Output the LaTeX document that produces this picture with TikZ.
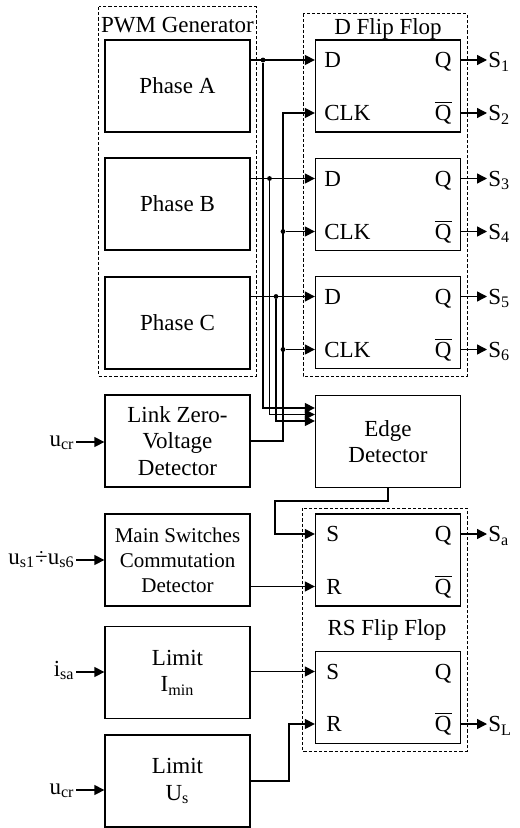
\documentclass[tikz,border=0pt]{standalone}
\usepackage{fontspec}
\setmainfont{Liberation Serif}
\usetikzlibrary{arrows.meta}
\newcommand{\qbar}{$\overline{\mbox{Q}}$}
\tikzset{
  blk/.style = {draw=black, fill=white, minimum width=72.5pt, minimum height=46pt,
    inner sep=0pt, align=center, line width=0.65pt,
    font=\fontsize{11.5}{13.3}\selectfont},
  txt/.style = {inner sep=0.5pt, text height=9pt, text depth=1.2pt,
    font=\fontsize{11.5}{13.3}\selectfont},
  inp/.style = {inner sep=0.5pt, text height=4.5pt, text depth=0.5pt, anchor=east,
    font=\fontsize{11.5}{13.3}\selectfont},
  grp/.style = {draw=black, line width=0.5pt, dash pattern=on 1.6pt off 1pt},
  pt/.style = {circle, fill=black, inner sep=0pt, minimum size=2.4pt},
  fio/.style = {line width=0.65pt},
  seta/.style = {-{Triangle[length=5pt, width=5pt]}, line width=0.65pt}
}

\begin{document}
\begin{tikzpicture}[x=0.5pt, y=-0.5pt]
  \useasboundingbox (0,0) rectangle (519,828);
  \draw [grp] (98.5,7) rectangle (256,376);
  \draw [grp] (303,14) rectangle (467,376);
  \draw [grp] (302,508) rectangle (467,751);
  \node [txt] (tp) at (177.5,24.5) {PWM Generator};
  \node [txt] (td) at (388,27) {D Flip Flop};
  \node [txt] (tr) at (387,627.5) {RS Flip Flop};

  \node [blk] (pa) at (177.5,86) {Phase A};
  \node [blk] (pb) at (177.5,204) {Phase B};
  \node [blk] (pc) at (177.5,323) {Phase C};
  \node [blk] (lz) at (177.5,441) {Link Zero-\\Voltage\\Detector};
  \node [blk, font=\fontsize{10.5}{12.5}\selectfont] (ms) at (177.5,560)
    {Main Switches\\Commutation\\Detector};
  \node [blk] (li) at (177.5,672.5) {Limit\\I\textsubscript{min}};
  \node [blk] (lu) at (177.5,781) {Limit\\U\textsubscript{s}};
  \node [blk] (ed) at (388,441.5) {Edge\\Detector};

  \foreach \i/\y in {1/86, 2/204.5, 3/322.5} {
    \node [blk] (d\i) at (388,\y) {};
    \node [txt, anchor=west] (dD\i) at (323,\y-26) {D};
    \node [txt, anchor=west] (dC\i) at (323,\y+27) {CLK};
    \node [txt, anchor=east] (dQ\i) at (453,\y-26) {Q};
    \node [txt, anchor=east] (dN\i) at (453,\y+27) {\qbar};
  }
  \foreach \i/\y in {1/560, 2/697.5} {
    \node [blk] (r\i) at (388,\y) {};
    \node [txt, anchor=west] (rS\i) at (325,\y-26) {S};
    \node [txt, anchor=west] (rR\i) at (325,\y+26.5) {R};
    \node [txt, anchor=east] (rQ\i) at (453,\y-26) {Q};
    \node [txt, anchor=east] (rN\i) at (453,\y+26.5) {\qbar};
  }

  \foreach \i/\a/\b in {1/1/2, 2/3/4, 3/5/6} {
    \node [txt, anchor=west] (s\a) at (dQ\i -| 487,0) {S\textsubscript{\a}};
    \node [txt, anchor=west] (s\b) at (dN\i -| 487,0) {S\textsubscript{\b}};
    \draw [seta] (dQ\i -| d\i.east) -- (s\a);
    \draw [seta] (dN\i -| d\i.east) -- (s\b);
  }
  \node [txt, anchor=west] (sa) at (rQ1 -| 487,0) {S\textsubscript{a}};
  \node [txt, anchor=west] (sl) at (rN2 -| 487,0) {S\textsubscript{L}};
  \draw [seta] (rQ1 -| r1.east) -- (sa);
  \draw [seta] (rN2 -| r2.east) -- (sl);

  \node [inp] (u1) at (76,442) {u\textsubscript{cr}};
  \node [inp] (us) at (76,560) {u\textsubscript{s1}÷u\textsubscript{s6}};
  \node [inp] (ia) at (76,672) {i\textsubscript{sa}};
  \node [inp] (u2) at (76,790) {u\textsubscript{cr}};
  \draw [seta] (u1) -- (u1 -| lz.west);
  \draw [seta] (us) -- (us -| ms.west);
  \draw [seta] (ia) -- (ia -| li.west);
  \draw [seta] (u2) -- (u2 -| lu.west);

  \node [pt] (ja) at (dD1 -| 263,0) {};
  \node [pt] (jb) at (dD2 -| 269.5,0) {};
  \node [pt] (jc) at (dD3 -| 276,0) {};
  \draw [seta] (dD1 -| pa.east) -- (dD1 -| d1.west);
  \draw [seta] (dD2 -| pb.east) -- (dD2 -| d2.west);
  \draw [seta] (dD3 -| pc.east) -- (dD3 -| d3.west);
  \draw [seta] (ja) |- (ed.west |- 0,408);
  \draw [seta] (jb) |- (ed.west |- 0,414.5);
  \draw [seta] (jc) |- (ed.west |- 0,421);

  \coordinate (kt) at (283,0);
  \node [pt] (k2) at (kt |- dC2) {};
  \node [pt] (k3) at (kt |- dC3) {};
  \draw [seta] (lz.east) -| (kt |- dC1) -- (dC1 -| d1.west);
  \draw [seta] (k2) -- (dC2 -| d2.west);
  \draw [seta] (k3) -- (dC3 -| d3.west);

  \coordinate (eo) at (275,501);
  \draw [seta] (ed.south) |- (eo) |- (rS1 -| r1.west);
  \draw [seta] (rR1 -| ms.east) -- (rR1 -| r1.west);
  \draw [seta] (rS2 -| li.east) -- (rS2 -| r2.west);
  \coordinate (uo) at (289,0);
  \draw [seta] (lu.east) -| (uo |- rR2) -- (rR2 -| r2.west);
\end{tikzpicture}
\end{document}
